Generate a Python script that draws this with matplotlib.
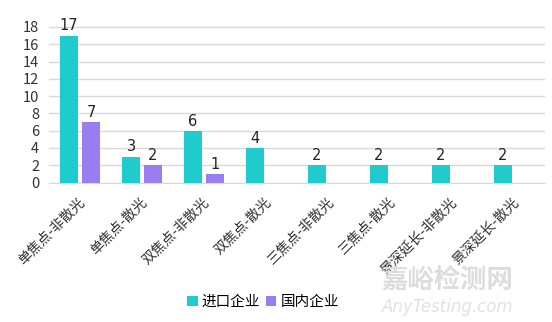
import numpy as np
import matplotlib.pyplot as plt
import matplotlib.transforms as mtransforms

plt.rcParams['font.family'] = ['Noto Sans CJK SC', 'DejaVu Sans']

categories = ['单焦点-非散光', '单焦点-散光', '双焦点-非散光', '双焦点-散光',
              '三焦点-非散光', '三焦点-散光', '景深延长-非散光', '景深延长-散光']
imported = [17, 3, 6, 4, 2, 2, 2, 2]
domestic = [7, 2, 1, 0, 0, 0, 0, 0]
series_names = ['进口企业', '国内企业']

c_imp = '#1FCBCD'
c_dom = '#9B7DF2'

fig = plt.figure(figsize=(5.52, 3.22), dpi=100)
ax = fig.add_axes([49 / 552, 1 - 182.5 / 322, 496 / 552, 155.5 / 322 * 20 / 18])

x = np.arange(len(categories))
w = 0.29
off = 0.177
b1 = ax.bar(x - off, imported, w, color=c_imp, label=series_names[0], zorder=3)
dom_x = [xi + off for xi, v in zip(x, domestic) if v > 0]
dom_v = [v for v in domestic if v > 0]
b2 = ax.bar(dom_x, dom_v, w, color=c_dom, label=series_names[1], zorder=3)

for xi, v in zip(x - off, imported):
    ax.text(xi, v + 0.25, str(v), ha='center', va='bottom', fontsize=10.5,
            color='#222222', family='DejaVu Sans')
for xi, v in zip(dom_x, dom_v):
    ax.text(xi, v + 0.25, str(v), ha='center', va='bottom', fontsize=10.5,
            color='#222222', family='DejaVu Sans')

ax.set_xlim(-0.5, len(categories) - 0.5)
ax.set_ylim(0, 20)
ax.set_yticks(np.arange(0, 19, 2))
ax.yaxis.grid(True, color='#D9D9D9', linewidth=1, zorder=0)
ax.set_axisbelow(True)
for s in ['top', 'right', 'left']:
    ax.spines[s].set_visible(False)
ax.spines['bottom'].set_color('#D9D9D9')
ax.tick_params(axis='both', length=0, labelsize=10.5, colors='#333333')
ax.tick_params(axis='y', pad=7)
ax.tick_params(axis='x', pad=9)
ax.set_xticks(x)
ax.set_xticklabels(categories, rotation=45, ha='right', rotation_mode='anchor',
                   fontsize=10)
shift = mtransforms.ScaledTranslation(-2 / 100, 0, fig.dpi_scale_trans)
for lbl in ax.get_xticklabels():
    lbl.set_transform(lbl.get_transform() + shift)

fig.legend(handles=[b1, b2], labels=series_names, loc='center',
           bbox_to_anchor=(0.477, 1 - 302 / 322), ncol=2, frameon=False,
           fontsize=10.5, handlelength=0.7, handleheight=0.7, handletextpad=0.3,
           columnspacing=0.4)

fig.text(0.93, 1 - 280 / 322, '嘉峪检测网', ha='right', va='center',
         fontsize=19, color='#DDDDDD', weight='bold')
fig.text(0.93, 1 - 307 / 322, 'AnyTesting.com', ha='right', va='center',
         fontsize=12, color='#E2E2E2', style='italic', family='DejaVu Sans')

fig.savefig('out.png', dpi=100)
